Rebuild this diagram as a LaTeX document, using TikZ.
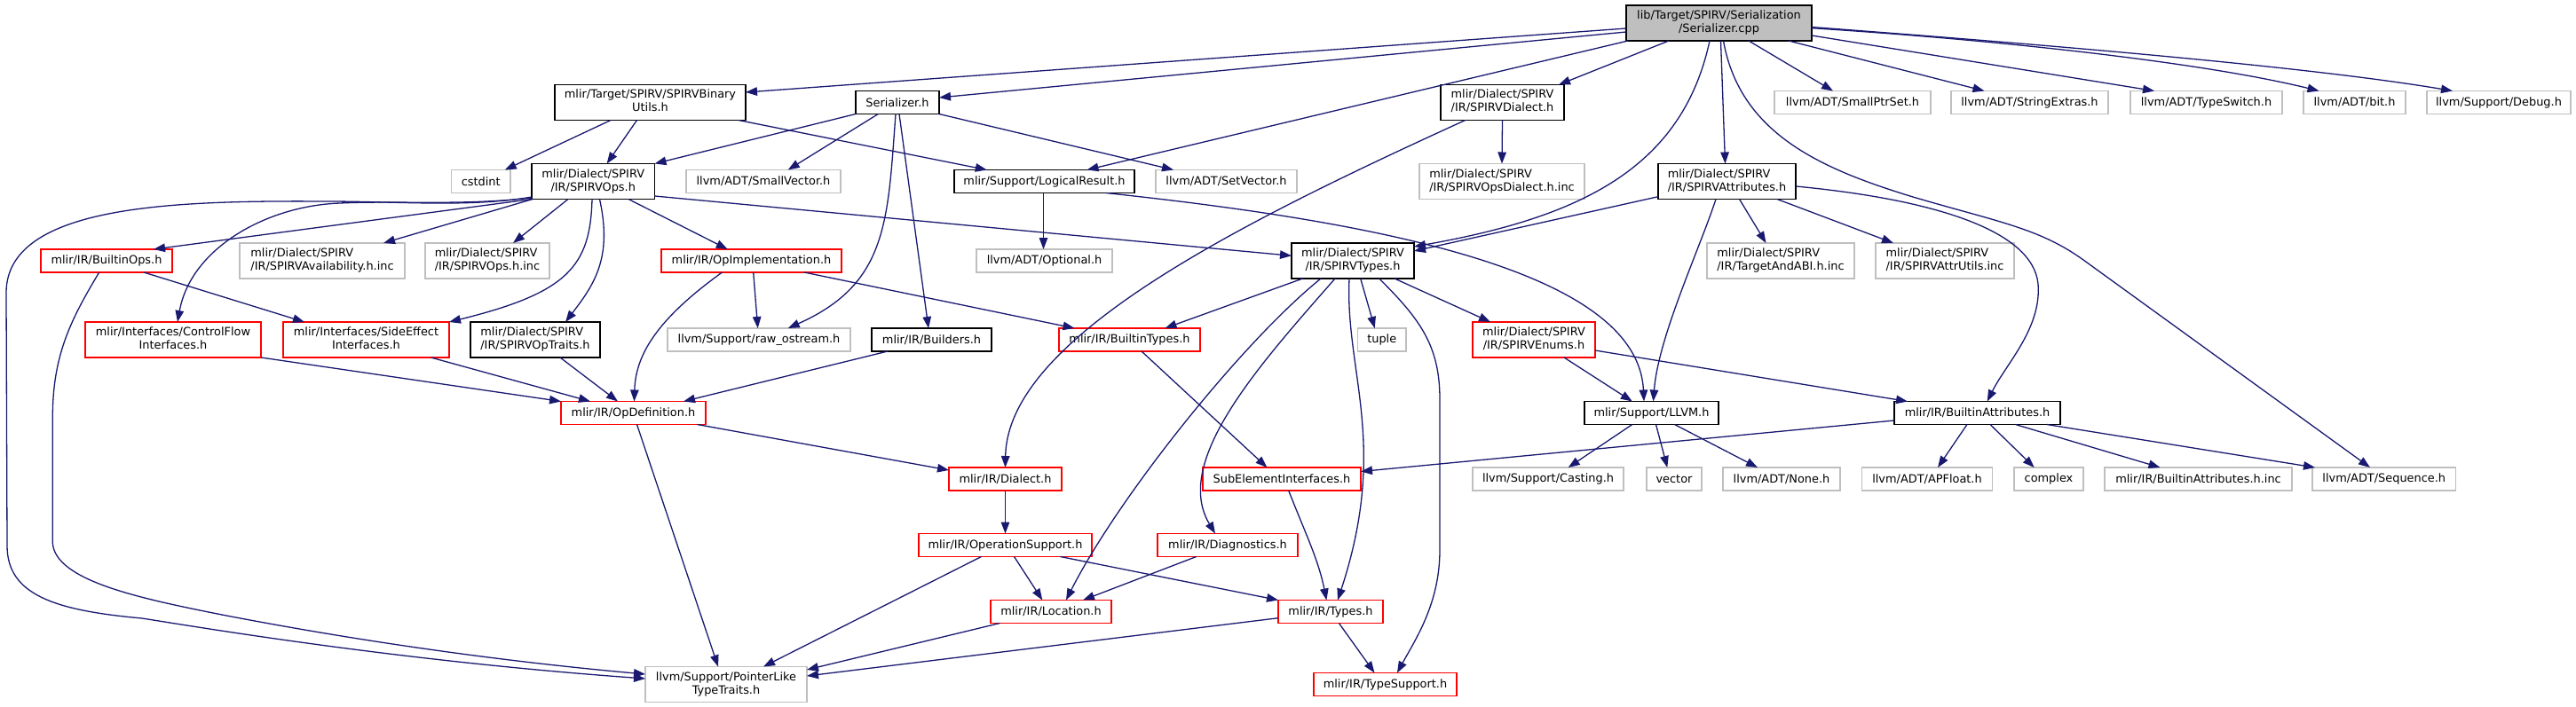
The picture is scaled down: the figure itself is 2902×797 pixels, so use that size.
\documentclass[tikz,border=0pt]{standalone}
\usepackage{fontspec}
\setmainfont{DejaVu Sans}
\usetikzlibrary{arrows.meta,calc}
\definecolor{edgeblue}{HTML}{191970}
\definecolor{grayb}{HTML}{BFBFBF}
\definecolor{redb}{HTML}{FF0000}
\newlength\twowa
\newlength\twowb
\newcommand\twoline[2]{\settowidth\twowa{#1}\settowidth\twowb{#2}\ifdim\twowb>\twowa\twowa=\twowb\fi\begin{tabular}{@{}c@{}}\makebox[\twowa][l]{#1}\\#2\end{tabular}}
\newcommand\nd[7]{\node[#1, minimum width={(#4-#3)*1pt}, minimum height={(#6-#5)*1pt}] (#2) at ({(#3+#4)/2},{(#5+#6)/2}) {#7};}
\tikzset{
  nbase/.style={inner sep=0pt, outer sep=0pt, font=\fontsize{12.9}{15}\selectfont, fill=white},
  gn/.style={nbase, draw=grayb, line width=1.3pt},
  bn/.style={nbase, draw=black, line width=1.6pt},
  rn/.style={nbase, draw=redb, line width=1.4pt},
  rootn/.style={nbase, draw=black, line width=1.6pt, fill=grayb},
  e/.style={draw=edgeblue, line width=1.3pt, -{Triangle[length=13pt,width=9.5pt]}}
}
\begin{document}
\begin{tikzpicture}[x=1pt,y=-1pt]
\useasboundingbox (0,0) rectangle (2902,797);
% nodes
\nd{rootn}{R}{1832}{2041}{6}{46}{\twoline{lib/Target/SPIRV/Serialization}{/Serializer.cpp}}
\nd{bn}{BU}{625}{840}{95.5}{135.5}{\twoline{mlir/Target/SPIRV/SPIRVBinary}{Utils.h}}
\nd{bn}{SH}{964}{1058}{102.5}{128.5}{Serializer.h}
\nd{bn}{SD}{1623}{1762}{95.5}{135.5}{\twoline{mlir/Dialect/SPIRV}{/IR/SPIRVDialect.h}}
\nd{gn}{SPS}{1999}{2175}{102.5}{128.5}{llvm/ADT/SmallPtrSet.h}
\nd{gn}{SX}{2198}{2375}{102.5}{128.5}{llvm/ADT/StringExtras.h}
\nd{gn}{TSW}{2400}{2571}{102.5}{128.5}{llvm/ADT/TypeSwitch.h}
\nd{gn}{BIT}{2595}{2710}{102.5}{128.5}{llvm/ADT/bit.h}
\nd{gn}{DBG}{2734}{2896}{102.5}{128.5}{llvm/Support/Debug.h}
\nd{gn}{CST}{508.5}{575}{191.5}{217.5}{cstdint}
\nd{bn}{OPS}{599}{737.5}{184.5}{224.5}{\twoline{mlir/Dialect/SPIRV}{/IR/SPIRVOps.h}}
\nd{gn}{SV}{773}{947}{191.5}{217.5}{llvm/ADT/SmallVector.h}
\nd{bn}{LR}{1075}{1278}{191.5}{217.5}{mlir/Support/LogicalResult.h}
\nd{gn}{SETV}{1302}{1461}{191.5}{217.5}{llvm/ADT/SetVector.h}
\nd{gn}{ODI}{1599}{1785}{184.5}{224.5}{\twoline{mlir/Dialect/SPIRV}{/IR/SPIRVOpsDialect.h.inc}}
\nd{bn}{SA}{1868}{2023}{184.5}{224.5}{\twoline{mlir/Dialect/SPIRV}{/IR/SPIRVAttributes.h}}
\nd{rn}{BO}{46}{194}{281}{307}{mlir/IR/BuiltinOps.h}
\nd{gn}{AV}{270}{456}{274}{314}{\twoline{mlir/Dialect/SPIRV}{/IR/SPIRVAvailability.h.inc}}
\nd{gn}{OIN}{479}{619}{274}{314}{\twoline{mlir/Dialect/SPIRV}{/IR/SPIRVOps.h.inc}}
\nd{rn}{OI}{745}{948}{281}{307}{mlir/IR/OpImplementation.h}
\nd{gn}{OPT}{1100}{1253}{281}{307}{llvm/ADT/Optional.h}
\nd{bn}{ST}{1455}{1593}{274}{314}{\twoline{mlir/Dialect/SPIRV}{/IR/SPIRVTypes.h}}
\nd{gn}{TAB}{1923}{2089}{274}{314}{\twoline{mlir/Dialect/SPIRV}{/IR/TargetAndABI.h.inc}}
\nd{gn}{AU}{2113}{2269}{274}{314}{\twoline{mlir/Dialect/SPIRV}{/IR/SPIRVAttrUtils.inc}}
\nd{rn}{CF}{96}{294}{363}{403}{\twoline{mlir/Interfaces/ControlFlow}{Interfaces.h}}
\nd{rn}{SE}{319}{506}{363}{403}{\twoline{mlir/Interfaces/SideEffect}{Interfaces.h}}
\nd{bn}{OT}{530}{676}{363}{403}{\twoline{mlir/Dialect/SPIRV}{/IR/SPIRVOpTraits.h}}
\nd{gn}{RO}{752}{958}{370}{396}{llvm/Support/raw\_ostream.h}
\nd{bn}{BL}{982}{1117}{370}{396}{mlir/IR/Builders.h}
\nd{rn}{BT}{1193}{1352}{370}{396}{mlir/IR/BuiltinTypes.h}
\nd{gn}{TUP}{1529.5}{1584}{370}{396}{tuple}
\nd{rn}{EN}{1659}{1797}{363}{403}{\twoline{mlir/Dialect/SPIRV}{/IR/SPIRVEnums.h}}
\nd{rn}{OD}{632}{795}{452.5}{478.5}{mlir/IR/OpDefinition.h}
\nd{bn}{LLVM}{1785}{1936}{452.5}{478.5}{mlir/Support/LLVM.h}
\nd{bn}{BA}{2134}{2321}{452.5}{478.5}{mlir/IR/BuiltinAttributes.h}
\nd{rn}{DI}{1069}{1196}{527}{553}{mlir/IR/Dialect.h}
\nd{rn}{SU}{1355}{1533}{527}{553}{SubElementInterfaces.h}
\nd{gn}{CA}{1659}{1829}{527}{553}{llvm/Support/Casting.h}
\nd{gn}{VEC}{1855}{1917}{527}{553}{vector}
\nd{gn}{NO}{1941}{2073}{527}{553}{llvm/ADT/None.h}
\nd{gn}{AP}{2097.5}{2244.5}{527}{553}{llvm/ADT/APFloat.h}
\nd{gn}{CX}{2269}{2347}{527}{553}{complex}
\nd{gn}{BAI}{2371}{2582}{527}{553}{mlir/IR/BuiltinAttributes.h.inc}
\nd{gn}{SEQ}{2605}{2766.5}{527}{553}{llvm/ADT/Sequence.h}
\nd{rn}{OS}{1035}{1230}{601.5}{627.5}{mlir/IR/OperationSupport.h}
\nd{rn}{DG}{1304}{1462}{601.5}{627.5}{mlir/IR/Diagnostics.h}
\nd{rn}{LO}{1116}{1252}{676.5}{702.5}{mlir/IR/Location.h}
\nd{rn}{TY}{1440}{1558}{676.5}{702.5}{mlir/IR/Types.h}
\nd{gn}{PLT}{727}{909}{751.5}{791.5}{\twoline{llvm/Support/PointerLike}{TypeTraits.h}}
\nd{rn}{TS}{1480}{1641}{758.5}{784.5}{mlir/IR/TypeSupport.h}
% root edges
\draw[e] ([yshift=-6pt]R.west) -- ([yshift=11.5pt]BU.east);
\draw[e] ([yshift=-10pt]R.west) -- ([yshift=5.5pt]SH.east);
\draw[e] ([xshift=2pt]R.south west) -- ([xshift=48pt]LR.north);
\draw[e] ([xshift=-56.5pt]R.south) -- ([xshift=63.5pt]SD.north);
\draw[e] ([xshift=-10.5pt]R.south) .. controls (1895,190) and (1780,245) .. ([yshift=16pt]ST.east);
\draw[e] ([xshift=2pt]R.south) -- ([xshift=-2pt]SA.north);
\draw[e] ([xshift=5pt]R.south) .. controls (1960,150) and (2050,190) .. (2155,222) .. controls (2250,250) and (2297,257) .. (2347,293) -- ([xshift=-15.75pt]SEQ.north);
\draw[e] ([xshift=33.5pt]R.south) -- ([xshift=-22pt]SPS.north);
\draw[e] ([xshift=78.5pt]R.south) -- ([xshift=-51pt]SX.north);
\draw[e] ([yshift=-14pt]R.east) -- ([xshift=-58.5pt]TSW.north);
\draw[e] ([yshift=-5.7pt]R.east) .. controls (2250,45) and (2480,70) .. ([xshift=-40pt]BIT.north);
\draw[e] ([yshift=-4.5pt]R.east) .. controls (2300,50) and (2600,75) .. ([xshift=-52pt]DBG.north);
% BU
\draw[e] ([xshift=-44.5pt]BU.south) -- ([xshift=27pt]CST.north);
\draw[e] ([xshift=-15pt]BU.south) -- ([xshift=15.4pt]OPS.north);
\draw[e] ([xshift=99.5pt]BU.south) -- ([xshift=-64.7pt]LR.north);
% SH
\draw[e] (SH.south west) -- (OPS.north east);
\draw[e] ([xshift=-21.7pt]SH.south) -- ([xshift=27.7pt]SV.north);
\draw[e] ([xshift=-2pt]SH.south) .. controls (1000,250) and (1000,320) .. ([xshift=32.7pt]RO.north);
\draw[e] ([xshift=2pt]SH.south) -- ([xshift=-3.5pt]BL.north);
\draw[e] (SH.south east) -- ([xshift=-59.5pt]SETV.north);
% SD
\draw[e] (SD.south) -- (ODI.north);
\draw[e] ([xshift=-41.8pt]SD.south) .. controls (1400,250) and (1135,380) .. (DI.north);
% LR
\draw[e] ([xshift=-1pt]LR.south) -- ([xshift=-1pt]OPT.north);
\draw[e] ([xshift=69.2pt]LR.south) .. controls (1550,250) and (1845,305) .. ([xshift=-8.5pt]LLVM.north);
% SA
\draw[e] ([yshift=-17.2pt]SA.west) -- ([yshift=11pt]ST.east);
\draw[e] ([xshift=-12.5pt]SA.south) .. controls (1915,280) and (1868,380) .. ([xshift=2pt]LLVM.north);
\draw[e] ([xshift=14pt]SA.south) -- ([xshift=-16.5pt]TAB.north);
\draw[e] ([xshift=56.5pt]SA.south) -- ([xshift=-58pt]AU.north);
\draw[e] ([yshift=-5.5pt]SA.east) .. controls (2180,225) and (2290,260) .. (2296,320) .. controls (2300,370) and (2260,410) .. ([xshift=11.2pt]BA.north);
% OPS
\draw[e] ([yshift=-17.5pt]OPS.west) .. controls (530,234) and (450,227) .. (367,227) .. controls (200,226) and (7,230) .. (7,330) -- (8,615) .. controls (8,670) and (60,688) .. (160,697) .. controls (230,708) and (450,745) .. ([yshift=6.5pt]PLT.west);
\draw[e] ([yshift=-18.5pt]OPS.west) .. controls (520,232) and (450,226) .. (383,229) .. controls (300,232) and (215,280) .. ([xshift=5pt]CF.north);
\draw[e] ([yshift=-20pt]OPS.west) -- ([xshift=53pt]BO.north);
\draw[e] ([xshift=1pt]OPS.south west) -- ([xshift=69pt]AV.north);
\draw[e] ([xshift=-28.25pt]OPS.south) -- ([xshift=29pt]OIN.north);
\draw[e] ([xshift=-1.25pt]OPS.south) .. controls (665,300) and (640,330) .. (SE.north east);
\draw[e] ([xshift=7.25pt]OPS.south) .. controls (690,290) and (670,320) .. ([xshift=34pt]OT.north);
\draw[e] ([xshift=39.75pt]OPS.south) -- ([xshift=-26.8pt]OI.north);
\draw[e] ([yshift=-16.5pt]OPS.east) -- ([yshift=5.7pt]ST.west);
% BO
\draw[e] ([xshift=42pt]BO.south) -- ([xshift=-69.5pt]SE.north);
\draw[e] ([xshift=-8.3pt]BO.south) .. controls (80,360) and (59.3,400) .. (59.3,470) -- (59.3,612) .. controls (62,655) and (160,675) .. (250,693) .. controls (400,722) and (560,745) .. ([yshift=11.5pt]PLT.west);
% OI
\draw[e] ([xshift=2.2pt]OI.south) -- ([xshift=-1.3pt]RO.north);
\draw[e] ([xshift=-33pt]OI.south) .. controls (740,360) and (716,400) .. ([xshift=1pt]OD.north);
\draw[e] ([xshift=59.5pt]OI.south) -- ([xshift=-62pt]BT.north);
% into OD
\draw[e] (CF.south east) -- (OD.north west);
\draw[e] ([xshift=73pt]SE.south) -- ([xshift=-48.5pt]OD.north);
\draw[e] ([xshift=28pt]OT.south) -- ([xshift=-17.5pt]OD.north);
\draw[e] ([xshift=-49.5pt]BL.south) -- ([xshift=56.5pt]OD.north);
% OD
\draw[e] ([xshift=4pt]OD.south) -- ([xshift=-9pt]PLT.north);
\draw[e] ([xshift=72pt]OD.south) -- ([yshift=10pt]DI.west);
% ST
\draw[e] ([xshift=-56.4pt]ST.south) -- ([xshift=40pt]BT.north);
\draw[e] ([xshift=-36pt]ST.south) .. controls (1400,385) and (1260,560) .. ([xshift=17pt]LO.north);
\draw[e] ([xshift=-20pt]ST.south) .. controls (1420,410) and (1320,520) .. ([xshift=-14pt]DG.north);
\draw[e] ([xshift=-4pt]ST.south) .. controls (1515,420) and (1565,500) .. ([xshift=8pt]TY.north);
\draw[e] ([xshift=8.7pt]ST.south) -- ([xshift=-8pt]TUP.north);
\draw[e] ([xshift=29.7pt]ST.south) .. controls (1600,360) and (1622,390) .. (1622,450) -- (1622,620) .. controls (1622,680) and (1595,720) .. ([xshift=13.5pt]TS.north);
\draw[e] ([xshift=47pt]ST.south) -- ([xshift=-49pt]EN.north);
% EN
\draw[e] ([xshift=34pt]EN.south) -- ([xshift=-21.7pt]LLVM.north);
\draw[e] ([yshift=-12pt]EN.east) -- ([xshift=-78.5pt]BA.north);
% BT
\draw[e] ([xshift=13.5pt]BT.south) -- ([xshift=-16.6pt]SU.north);
% LLVM
\draw[e] ([xshift=-21.7pt]LLVM.south) -- ([xshift=22.7pt]CA.north);
\draw[e] ([xshift=5pt]LLVM.south) -- ([xshift=-7.7pt]VEC.north);
\draw[e] ([xshift=26pt]LLVM.south) -- ([xshift=-27pt]NO.north);
% BA
\draw[e] ([yshift=-8.5pt]BA.west) -- ([yshift=8.5pt]SU.east);
\draw[e] ([xshift=-11.5pt]BA.south) -- ([xshift=12pt]AP.north);
\draw[e] ([xshift=14.5pt]BA.south) -- ([xshift=-16.3pt]CX.north);
\draw[e] ([xshift=43pt]BA.south) -- ([xshift=-43pt]BAI.north);
\draw[e] ([xshift=78.3pt]BA.south) -- ([xshift=3pt]SEQ.north west);
% DI, OS, DG
\draw[e] (DI.south) -- (OS.north);
\draw[e] ([xshift=10pt]OS.south) -- ([xshift=-9.7pt]LO.north);
\draw[e] ([xshift=62pt]OS.south) -- (TY.north west);
\draw[e] ([xshift=-27pt]OS.south) -- ([xshift=42pt]PLT.north);
\draw[e] ([xshift=-35.3pt]DG.south) -- ([xshift=36pt]LO.north);
% SU
\draw[e] ([xshift=7.7pt]SU.south) .. controls (1470,600) and (1485,630) .. ([xshift=-4.6pt]TY.north);
% LO, TY
\draw[e] ([xshift=-57.6pt]LO.south) -- ([yshift=16.5pt]PLT.east);
\draw[e] ([yshift=-7.2pt]TY.west) -- ([yshift=9.5pt]PLT.east);
\draw[e] ([xshift=9.4pt]TY.south) -- ([xshift=-12pt]TS.north);
\end{tikzpicture}
\end{document}
